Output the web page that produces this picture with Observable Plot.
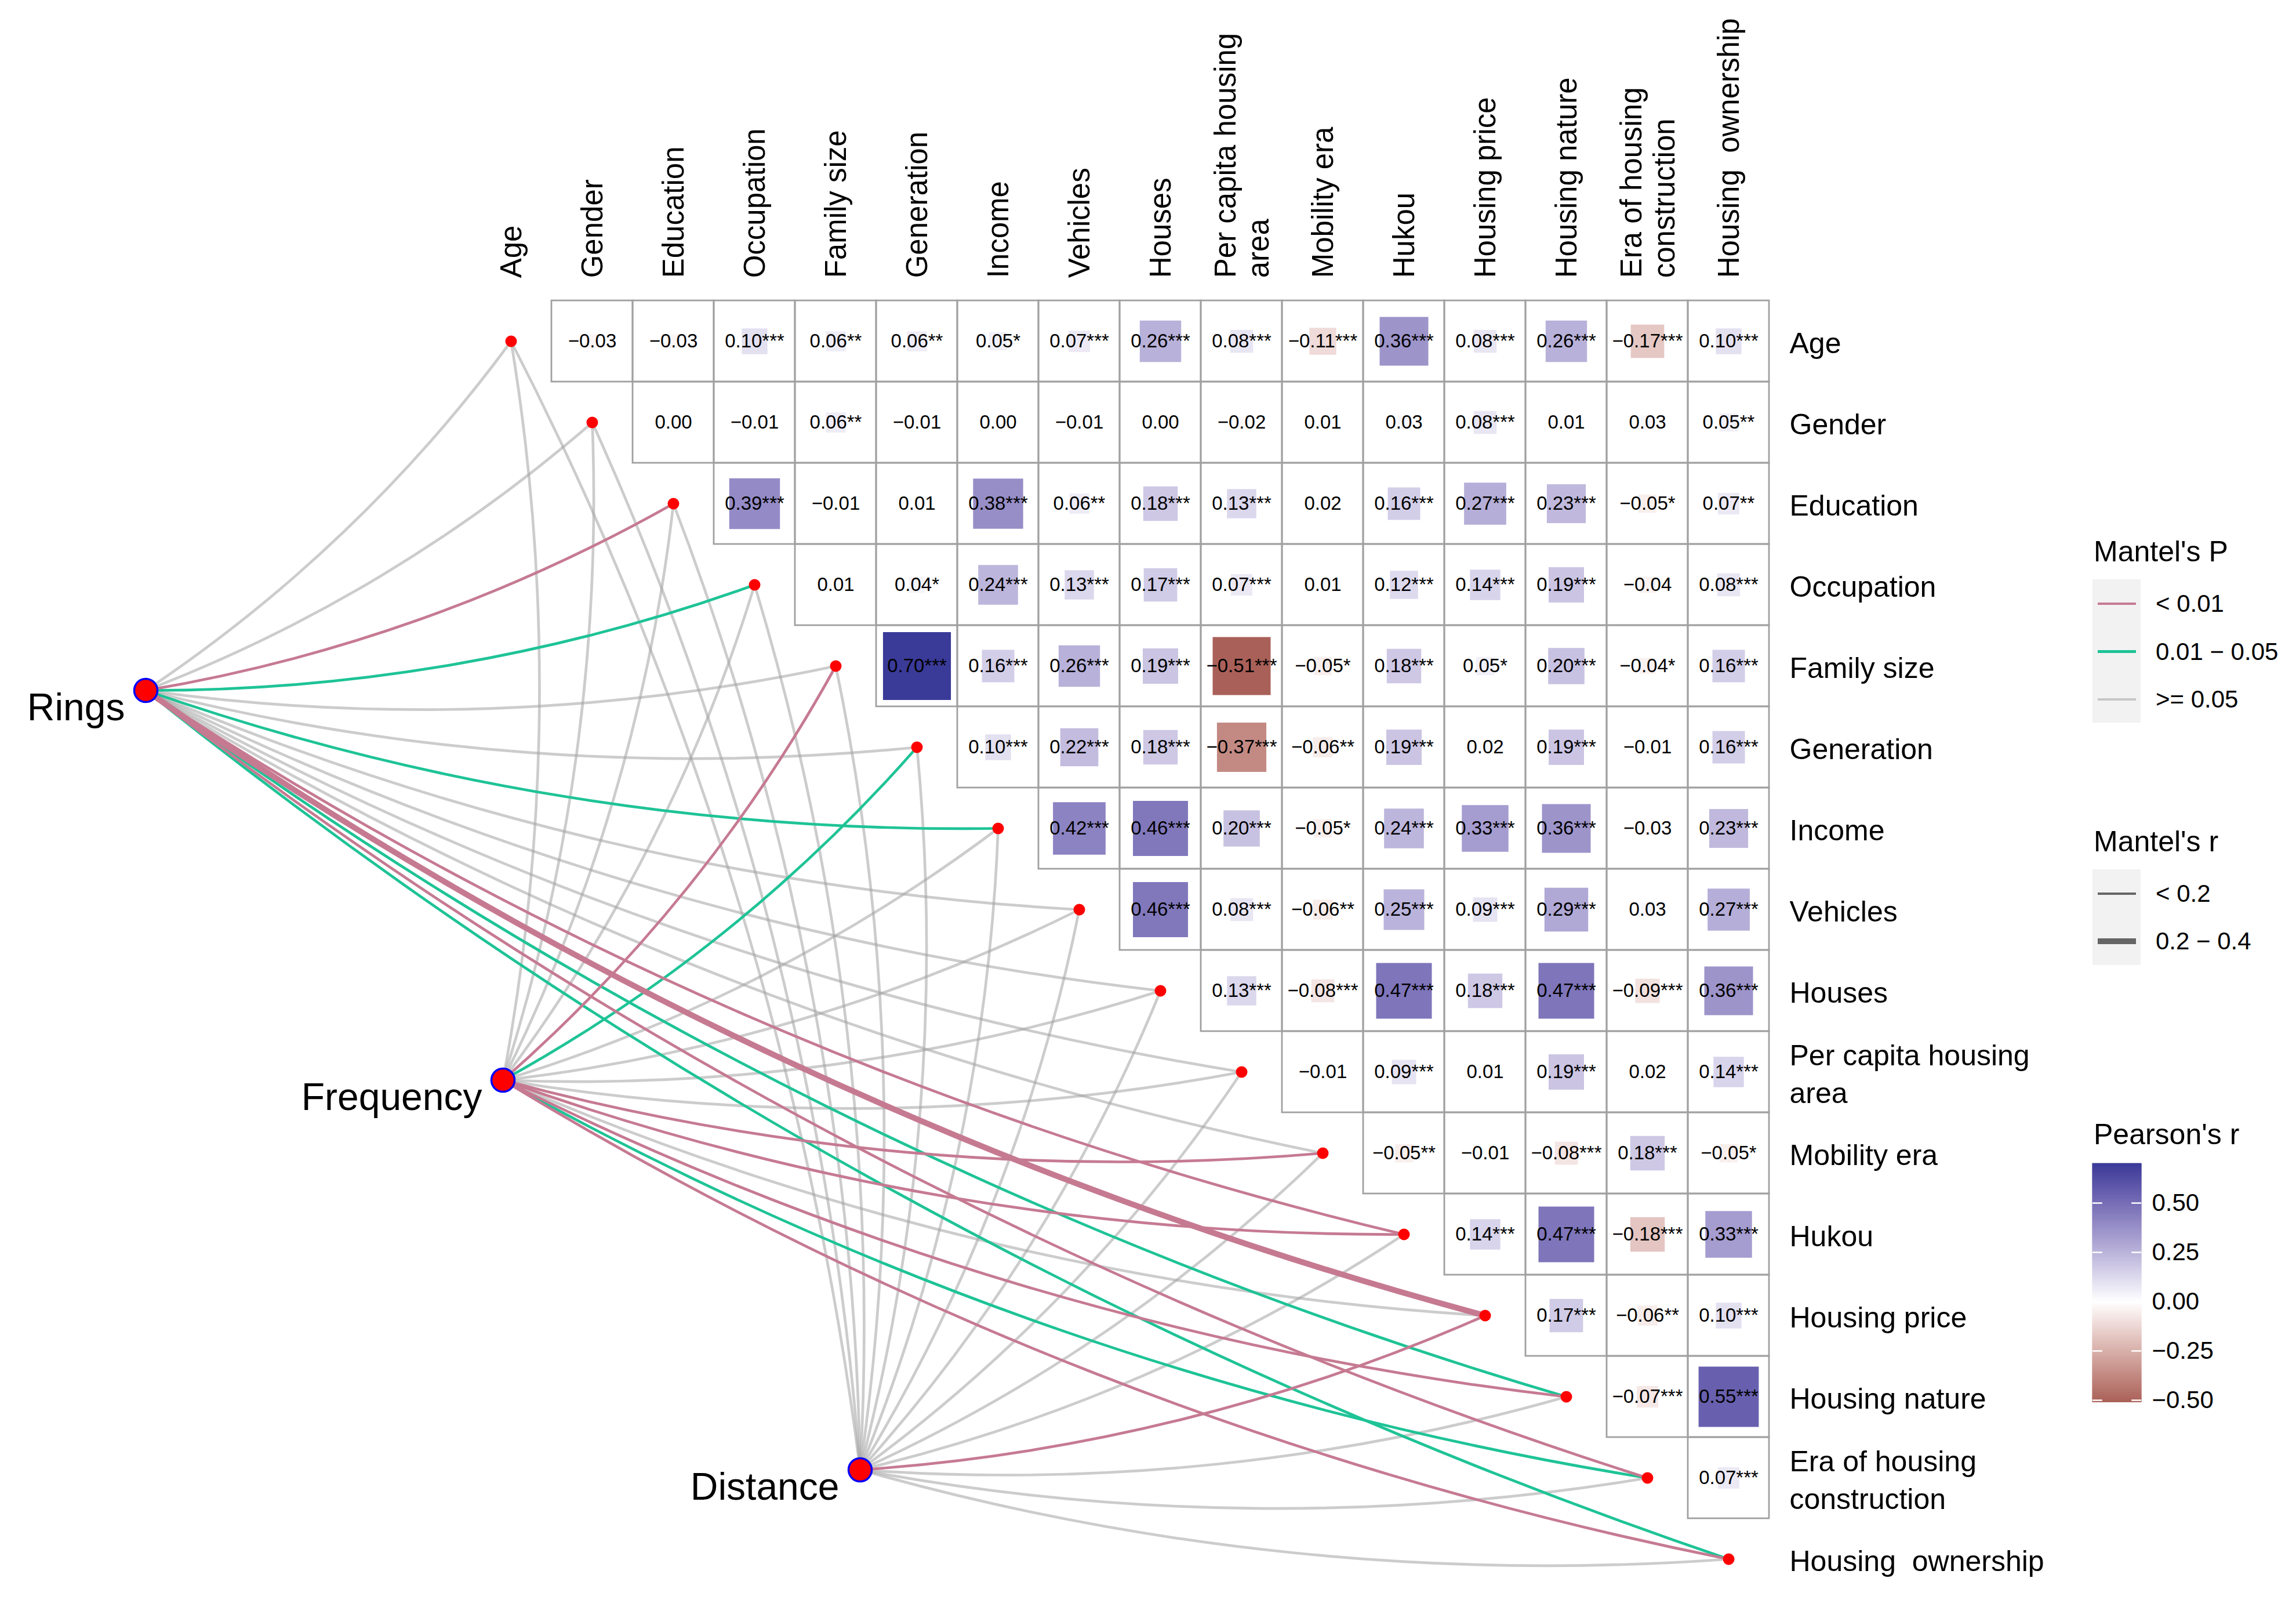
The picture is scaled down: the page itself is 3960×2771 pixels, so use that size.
<!DOCTYPE html>
<html>
<head>
<meta charset="utf-8">
<script src="https://cdn.jsdelivr.net/npm/d3@7"></script>
<script src="https://cdn.jsdelivr.net/npm/@observablehq/plot@0.6"></script>
<style>
html, body { margin: 0; padding: 0; background: #ffffff; }
#wrap { position: relative; width: 3960px; height: 2771px; overflow: hidden; font-family: "Liberation Sans", Arial, sans-serif; color: #000; }
#wrap svg text, #wrap svg tspan { white-space: pre; }
.lg { position: absolute; line-height: 1; white-space: pre; }
.lgtitle { font-size: 50px; transform: translateY(-50%); }
.lglabel { font-size: 42px; transform: translateY(-50%); }
.lgbox { position: absolute; background: #F2F2F2; }
.lgline { position: absolute; }
</style>
</head>
<body>
<div id="wrap"></div>
<script>
// ---------------- DATA ----------------
const variables = [
  "Age", "Gender", "Education", "Occupation", "Family size", "Generation",
  "Income", "Vehicles", "Houses", "Per capita housing\narea", "Mobility era",
  "Hukou", "Housing price", "Housing nature", "Era of housing\nconstruction",
  "Housing  ownership"
];

// Pearson's r (upper triangle, row by row, starting at the column after the row variable)
const rAge = ["-0.03", "-0.03", "0.10***", "0.06**", "0.06**", "0.05*", "0.07***", "0.26***", "0.08***", "-0.11***", "0.36***", "0.08***", "0.26***", "-0.17***", "0.10***"];
const rGender = ["0.00", "-0.01", "0.06**", "-0.01", "0.00", "-0.01", "0.00", "-0.02", "0.01", "0.03", "0.08***", "0.01", "0.03", "0.05**"];
const rEducation = ["0.39***", "-0.01", "0.01", "0.38***", "0.06**", "0.18***", "0.13***", "0.02", "0.16***", "0.27***", "0.23***", "-0.05*", "0.07**"];
const rOccupation = ["0.01", "0.04*", "0.24***", "0.13***", "0.17***", "0.07***", "0.01", "0.12***", "0.14***", "0.19***", "-0.04", "0.08***"];
const rFamilySize = ["0.70***", "0.16***", "0.26***", "0.19***", "-0.51***", "-0.05*", "0.18***", "0.05*", "0.20***", "-0.04*", "0.16***"];
const rGeneration = ["0.10***", "0.22***", "0.18***", "-0.37***", "-0.06**", "0.19***", "0.02", "0.19***", "-0.01", "0.16***"];
const rIncome = ["0.42***", "0.46***", "0.20***", "-0.05*", "0.24***", "0.33***", "0.36***", "-0.03", "0.23***"];
const rVehicles = ["0.46***", "0.08***", "-0.06**", "0.25***", "0.09***", "0.29***", "0.03", "0.27***"];
const rHouses = ["0.13***", "-0.08***", "0.47***", "0.18***", "0.47***", "-0.09***", "0.36***"];
const rPerCapita = ["-0.01", "0.09***", "0.01", "0.19***", "0.02", "0.14***"];
const rMobilityEra = ["-0.05**", "-0.01", "-0.08***", "0.18***", "-0.05*"];
const rHukou = ["0.14***", "0.47***", "-0.18***", "0.33***"];
const rHousingPrice = ["0.17***", "-0.06**", "0.10***"];
const rHousingNature = ["-0.07***", "0.55***"];
const rEraConstruction = ["0.07***"];

// Mantel test categories, one entry per variable (same order as `variables`)
const anchors = ["Rings", "Frequency", "Distance"];
const pCategories = ["< 0.01", "0.01 - 0.05", ">= 0.05"];
const rCategories = ["< 0.2", "0.2 - 0.4"];
const mantelPRings = [">= 0.05", ">= 0.05", "< 0.01", "0.01 - 0.05", ">= 0.05", ">= 0.05", "0.01 - 0.05", ">= 0.05", ">= 0.05", ">= 0.05", ">= 0.05", "< 0.01", "< 0.01", "0.01 - 0.05", "< 0.01", "0.01 - 0.05"];
const mantelPFrequency = [">= 0.05", ">= 0.05", ">= 0.05", ">= 0.05", "< 0.01", "0.01 - 0.05", ">= 0.05", ">= 0.05", ">= 0.05", ">= 0.05", "< 0.01", "< 0.01", ">= 0.05", "< 0.01", "0.01 - 0.05", "< 0.01"];
const mantelPDistance = [">= 0.05", ">= 0.05", ">= 0.05", ">= 0.05", ">= 0.05", ">= 0.05", ">= 0.05", ">= 0.05", ">= 0.05", ">= 0.05", ">= 0.05", ">= 0.05", "< 0.01", ">= 0.05", ">= 0.05", ">= 0.05"];
const mantelRRings = ["< 0.2", "< 0.2", "< 0.2", "< 0.2", "< 0.2", "< 0.2", "< 0.2", "< 0.2", "< 0.2", "< 0.2", "< 0.2", "< 0.2", "0.2 - 0.4", "< 0.2", "< 0.2", "< 0.2"];
const mantelRFrequency = ["< 0.2", "< 0.2", "< 0.2", "< 0.2", "< 0.2", "< 0.2", "< 0.2", "< 0.2", "< 0.2", "< 0.2", "< 0.2", "< 0.2", "< 0.2", "< 0.2", "< 0.2", "< 0.2"];
const mantelRDistance = ["< 0.2", "< 0.2", "< 0.2", "< 0.2", "< 0.2", "< 0.2", "< 0.2", "< 0.2", "< 0.2", "< 0.2", "< 0.2", "< 0.2", "< 0.2", "< 0.2", "< 0.2", "< 0.2"];

const colorbarTicks = [-0.5, -0.25, 0, 0.25, 0.5];

// ---------------- STYLE / LAYOUT ----------------
const W = 3960, H = 2771;
const unit = 140;                 // pixels per matrix cell
const originX = 881, originY = 588; // pixel position of the first diagonal node
const FONT = '"Liberation Sans", Arial, Helvetica, sans-serif';
const pColors = {"< 0.01": "#C67A92", "0.01 - 0.05": "#1EC396", ">= 0.05": "#A2A2A2"};
const pOpacity = {"< 0.01": 1, "0.01 - 0.05": 1, ">= 0.05": 0.55};
const rWidths = {"< 0.2": 4.7, "0.2 - 0.4": 10};
const lowColor = "#832424", midColor = "#FFFFFF", highColor = "#3A3A98";
const minus = s => s.replace("-", "\u2212");

// ---------------- BUILD TABLES ----------------
const pearsonRows = [rAge, rGender, rEducation, rOccupation, rFamilySize, rGeneration, rIncome, rVehicles, rHouses, rPerCapita, rMobilityEra, rHukou, rHousingPrice, rHousingNature, rEraConstruction];
const cells = pearsonRows.flatMap((row, i) => row.map((lab, k) => ({
  row: i, col: i + 1 + k, value: parseFloat(lab), label: minus(lab)
})));
const nodes = variables.map((name, k) => ({name, k}));
const anchorPts = anchors.map((name, i) => ({name, x: -4.5 + 4.4 * i, y: 4.3 + 4.8 * i}));
const mantelP = [mantelPRings, mantelPFrequency, mantelPDistance];
const mantelR = [mantelRRings, mantelRFrequency, mantelRDistance];
const links = anchorPts.flatMap((a, i) => variables.map((v, k) => ({
  x1: a.x, y1: a.y, x2: k, y2: k, p: mantelP[i][k], r: mantelR[i][k]
})));

const ext = d3.extent(cells, d => d.value);
const colorScale = {
  type: "diverging", domain: ext, pivot: 0,
  interpolate: d3.piecewise(d3.interpolateLab, [lowColor, midColor, highColor])
};

// ---------------- MAIN PLOT ----------------
const linkMarks = [">= 0.05", "0.01 - 0.05", "< 0.01"].map(cat =>
  Plot.arrow(links.filter(d => d.p === cat), {
    x1: "x1", y1: "y1", x2: "x2", y2: "y2",
    bend: -10, headLength: 0,
    stroke: pColors[cat], strokeOpacity: pOpacity[cat],
    strokeWidth: d => rWidths[d.r], strokeLinecap: "butt"
  })
);

const main = Plot.plot({
  width: W, height: H,
  marginTop: 0, marginRight: 0, marginBottom: 0, marginLeft: 0,
  x: {domain: [-originX / unit, (W - originX) / unit], range: [0, W], axis: null},
  y: {domain: [-originY / unit, (H - originY) / unit], range: [0, H], axis: null},
  color: colorScale,
  r: {type: "sqrt", domain: [0, 1], range: [0, unit / Math.sqrt(Math.PI)]},
  style: {fontFamily: FONT, background: "transparent", maxWidth: "none", overflow: "visible"},
  marks: [
    ...linkMarks,
    Plot.rect(cells, {
      x1: d => d.col - 0.5, x2: d => d.col + 0.5,
      y1: d => d.row - 0.5, y2: d => d.row + 0.5,
      fill: "none", stroke: "#A0A0A0", strokeWidth: 2.8
    }),
    Plot.dot(cells, {x: "col", y: "row", symbol: "square", r: d => Math.abs(d.value), fill: "value"}),
    Plot.text(cells, {x: "col", y: "row", text: "label", fontSize: 33, fill: "#000"}),
    Plot.dot(nodes, {x: "k", y: "k", r: 10, fill: "#FF0000"}),
    Plot.dot(anchorPts, {x: "x", y: "y", r: 20, fill: "#FF0000", stroke: "#0000FF", strokeWidth: 3.5}),
    Plot.text(anchorPts, {x: "x", y: "y", text: "name", textAnchor: "end", dx: -36, dy: 30, fontSize: 66, fill: "#000"}),
    Plot.text(nodes, {
      x: "k", y: () => -0.5 - 0.28, text: "name", rotate: -90,
      textAnchor: "start", lineAnchor: "middle", lineHeight: 1.1, fontSize: 51, fill: "#000"
    }),
    Plot.text(nodes, {
      x: () => 15.75, y: "k", text: "name",
      textAnchor: "start", lineAnchor: "middle", lineHeight: 1.3, fontSize: 50, fill: "#000"
    })
  ]
});
const wrap = document.getElementById("wrap");
main.style.position = "absolute";
main.style.left = "0px";
main.style.top = "0px";
wrap.appendChild(main);

// ---------------- LEGENDS ----------------
function addDiv(cls, css, text) {
  const el = document.createElement("div");
  el.className = cls;
  Object.assign(el.style, css);
  if (text != null) el.textContent = text;
  wrap.appendChild(el);
  return el;
}
const lgLeft = 3609, keyLeft = 3618, keyWidth = 66, labelLeft = 3718;

// Mantel's P
addDiv("lg lgtitle", {left: "3611px", top: "951px"}, "Mantel's P");
addDiv("lgbox", {left: lgLeft + "px", top: "999px", width: "83px", height: "247px"});
pCategories.forEach((cat, i) => {
  const cy = 1041 + i * 82.5;
  const w = 4.5;
  addDiv("lgline", {left: keyLeft + "px", top: (cy - w / 2) + "px", width: keyWidth + "px", height: w + "px",
    background: pColors[cat], opacity: pOpacity[cat]});
  addDiv("lg lglabel", {left: labelLeft + "px", top: cy + "px"}, cat.replace(" - ", " \u2212 "));
});

// Mantel's r
addDiv("lg lgtitle", {left: "3611px", top: "1451px"}, "Mantel's r");
addDiv("lgbox", {left: lgLeft + "px", top: "1499px", width: "83px", height: "165px"});
rCategories.forEach((cat, i) => {
  const cy = 1541 + i * 82;
  const w = rWidths[cat];
  addDiv("lgline", {left: keyLeft + "px", top: (cy - w / 2) + "px", width: keyWidth + "px", height: w + "px", background: "#666666"});
  addDiv("lg lglabel", {left: labelLeft + "px", top: cy + "px"}, cat.replace(" - ", " \u2212 "));
});

// Pearson's r colorbar
addDiv("lg lgtitle", {left: "3611px", top: "1956px"}, "Pearson's r");
const nSteps = 300;
const barVals = d3.range(nSteps + 1).map(i => ext[0] + (ext[1] - ext[0]) * i / nSteps);
const barCells = barVals.slice(0, -1).map((v, i) => ({v0: v, v1: barVals[i + 1], mid: (v + barVals[i + 1]) / 2}));
const barH = (ext[1] - ext[0]) * 340;
const bar = Plot.plot({
  width: 84 + 220, height: barH + 60,
  marginTop: 30, marginBottom: 30, marginLeft: 0, marginRight: 220,
  x: {domain: [0, 1], axis: null},
  y: {domain: ext, axis: "right", ticks: colorbarTicks, tickFormat: d3.format(".2f"), tickSize: 0, tickPadding: 18, label: null},
  color: colorScale,
  style: {fontFamily: FONT, fontSize: "42px", background: "transparent", maxWidth: "none", overflow: "visible", color: "#000"},
  marks: [
    Plot.rect(barCells, {x1: () => 0, x2: () => 1, y1: "v0", y2: "v1", fill: "mid", stroke: "mid", strokeWidth: 1}),
    Plot.ruleY(colorbarTicks, {x1: () => 0, x2: () => 0.2, stroke: "white", strokeWidth: 2.5}),
    Plot.ruleY(colorbarTicks, {x1: () => 0.8, x2: () => 1, stroke: "white", strokeWidth: 2.5})
  ]
});
bar.style.position = "absolute";
bar.style.left = lgLeft + "px";
bar.style.top = (2006 - 30) + "px";
wrap.appendChild(bar);
</script>
</body>
</html>
